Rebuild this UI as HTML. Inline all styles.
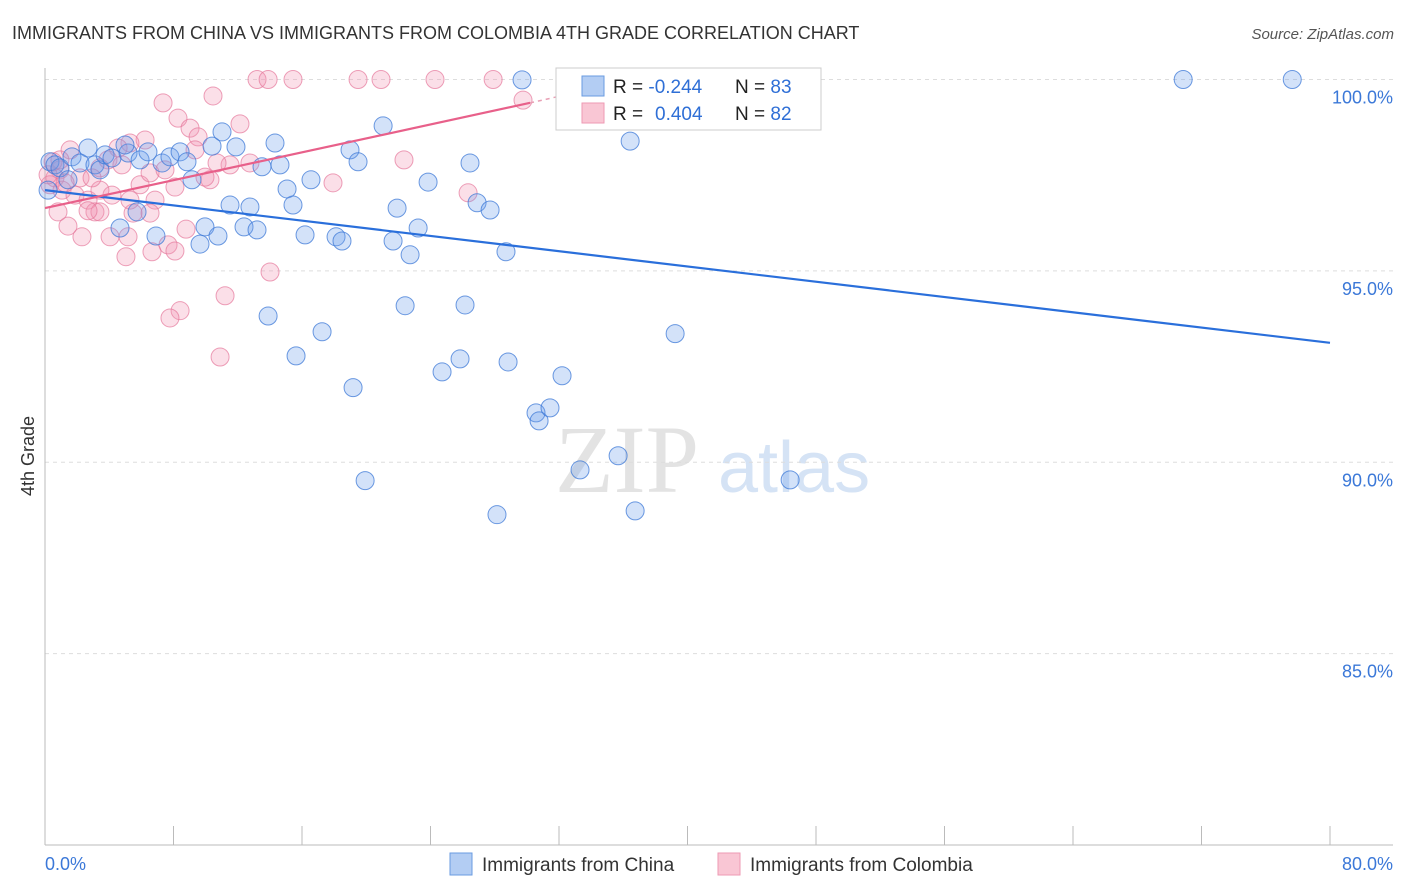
<!DOCTYPE html>
<html><head><meta charset="utf-8"><style>
body{margin:0;background:#fff;font-family:"Liberation Sans",sans-serif;}
</style></head><body>
<svg width="1406" height="892" xmlns="http://www.w3.org/2000/svg" style="display:block">
<text x="12" y="39" font-size="18" fill="#333">IMMIGRANTS FROM CHINA VS IMMIGRANTS FROM COLOMBIA 4TH GRADE CORRELATION CHART</text>
<text x="1394" y="39" font-size="15" fill="#555" font-style="italic" text-anchor="end">Source: ZipAtlas.com</text>
<text transform="translate(34,456) rotate(-90)" font-size="18" fill="#333" text-anchor="middle">4th Grade</text>
<g>
<text x="555" y="492" font-size="96" font-family="Liberation Serif,serif" fill="#e3e3e3">ZIP</text>
<text x="718" y="492" font-size="72" fill="#d5e3f5">atlas</text>
</g>
<g id="grid"></g>
<g id="axes"></g>
<g id="marks"></g>
<g id="trends"></g>
<g>
<rect x="556" y="68" width="265" height="62" fill="#fff" stroke="#ccc"/>
<rect x="582" y="76" width="22" height="20" fill="#b3cdf3" stroke="#6a9be0"/>
<rect x="582" y="103" width="22" height="20" fill="#f9c6d4" stroke="#ee9ab3"/>
<text x="613" y="93" font-size="19" fill="#222">R = <tspan fill="#2f6fd6">-0.244</tspan></text>
<text x="735" y="93" font-size="19" fill="#222">N = <tspan fill="#2f6fd6">83</tspan></text>
<text x="613" y="120" font-size="19" fill="#222">R = <tspan fill="#2f6fd6" x="655">0.404</tspan></text>
<text x="735" y="120" font-size="19" fill="#222">N = <tspan fill="#2f6fd6">82</tspan></text>
</g>
<g>
<rect x="450" y="853" width="22" height="22" fill="#b3cdf3" stroke="#6a9be0"/>
<text x="482" y="871" font-size="19" fill="#333">Immigrants from China</text>
<rect x="718" y="853" width="22" height="22" fill="#f9c6d4" stroke="#ee9ab3"/>
<text x="750" y="871" font-size="19" fill="#333">Immigrants from Colombia</text>
</g>
</svg>
<script>
const chinaX=[0.31,0.62,0.93,1.68,2.68,2.18,3.11,3.42,3.74,4.17,5.17,4.98,5.92,6.41,7.29,7.78,8.41,8.84,9.15,9.96,9.65,10.40,10.77,11.02,11.52,11.89,12.39,12.76,13.20,13.51,13.89,14.32,14.63,15.07,15.44,15.63,16.19,16.56,17.25,18.12,18.49,18.99,19.18,19.49,19.93,21.05,21.67,21.92,22.42,22.73,23.23,23.85,24.72,25.84,26.15,26.46,26.90,27.71,28.14,28.70,28.83,29.70,30.57,30.76,31.44,32.19,32.94,33.31,34.56,35.68,36.43,36.74,39.23,40.97,46.39,70.86,77.65,5.73,4.67,6.91,0.19,1.43];
const chinaY=[97.85,97.77,97.69,97.98,98.21,97.82,97.77,97.64,98.03,97.95,98.08,98.29,97.90,98.11,97.82,97.98,98.11,97.85,97.38,96.15,95.70,98.26,95.91,98.63,96.72,98.24,96.15,96.67,96.07,97.72,93.82,98.34,97.77,97.14,96.72,92.78,95.94,97.38,93.41,95.89,95.78,98.16,91.95,97.85,89.52,98.79,95.78,96.64,94.09,95.42,96.12,97.32,92.36,92.70,94.11,97.82,96.78,96.59,88.63,95.50,92.62,99.99,91.29,91.08,91.42,92.26,100,89.80,99.73,90.17,98.39,88.73,93.36,100,89.54,100,100,96.54,96.12,95.91,97.11,97.38];
const colX=[7.35,10.46,8.28,9.03,13.20,13.89,15.44,19.49,20.92,24.28,27.90,29.76,12.14,9.53,6.23,5.29,4.55,3.92,3.42,1.56,0.93,0.62,0.31,1.06,1.87,2.68,3.11,2.30,1.43,0.81,4.05,5.17,5.04,6.66,7.66,8.09,8.78,11.52,10.71,10.27,9.96,12.76,14.01,11.21,8.41,7.78,10.90,17.93,22.35,26.34,5.92,5.48,6.54,7.47,4.79,4.17,3.42,2.18,2.93,1.25,6.85,8.09,9.34,0.19,0.50,0.93,3.42,2.68,5.29,6.54];
const colY=[99.39,99.57,98.99,98.73,100,100,100,100,100,100,100,99.46,98.84,98.50,98.42,98.34,98.21,97.90,97.69,98.16,97.64,97.43,97.25,97.11,96.98,96.85,96.54,95.89,96.17,96.54,95.89,95.89,95.37,95.50,95.68,95.52,96.09,97.77,97.82,97.38,97.45,97.82,94.97,94.35,93.96,93.77,92.75,97.30,97.90,97.04,97.25,96.51,97.56,97.64,97.77,96.98,97.11,97.43,97.43,97.30,96.85,97.19,98.16,97.51,97.85,97.90,96.54,96.57,96.85,96.51];
const chinaTrend=[0,97.11,80,93.12];
const colTrend=[0,96.64,30.2,99.39,32.0,99.56];
const yTicks=[100,95,90,85];
const yTickLabels=["100.0%","95.0%","90.0%","85.0%"];
const xTicks=[0,8,16,24,32,40,48,56,64,72,80];

const X0=45,X1=1330,Y0=845,Y1=79.5;
const sx=v=>X0+(v/80)*(X1-X0);
const sy=v=>Y0-(v-80)/20*(Y0-Y1);
const NS="http://www.w3.org/2000/svg";
function mk(tag,attrs,parent){const e=document.createElementNS(NS,tag);for(const k in attrs)e.setAttribute(k,attrs[k]);parent.appendChild(e);return e;}
const grid=document.getElementById('grid'),axes=document.getElementById('axes'),marks=document.getElementById('marks'),trends=document.getElementById('trends');
yTicks.forEach((t,i)=>{
 const l=mk('line',{x1:X0,x2:1393,y1:sy(t),y2:sy(t),stroke:'#ddd','stroke-dasharray':'4,4'},grid);
 
 
 const tx=mk('text',{x:1393,y:sy(t)+24,'font-size':18,fill:'#3b78d8','text-anchor':'end'},grid);
 tx.textContent=yTickLabels[i];
 
 
});
const ya=mk('line',{x1:X0,x2:X0,y1:68,y2:Y0,stroke:'#bbb'},axes);


const xa=mk('line',{x1:X0,x2:1393,y1:Y0,y2:Y0,stroke:'#bbb'},axes);


xTicks.forEach(t=>{
 const l=mk('line',{x1:sx(t),x2:sx(t),y1:826,y2:Y0,stroke:'#bbb'},axes);
 
 
});
const xl0=mk('text',{x:X0,y:870,'font-size':18,fill:'#3b78d8'},axes);xl0.textContent='0.0%';


const xl1=mk('text',{x:1393,y:870,'font-size':18,fill:'#3b78d8','text-anchor':'end'},axes);xl1.textContent='80.0%';


colX.forEach((x,i)=>{
 const c=mk('circle',{cx:sx(x),cy:sy(colY[i]),r:9,fill:'rgba(242,150,178,0.3)',stroke:'rgba(230,120,155,0.7)'},marks);
 
 
});
chinaX.forEach((x,i)=>{
 const c=mk('circle',{cx:sx(x),cy:sy(chinaY[i]),r:9,fill:'rgba(110,160,235,0.3)',stroke:'rgba(60,120,215,0.75)'},marks);
 
 
});
const bt=mk('line',{x1:sx(chinaTrend[0]),y1:sy(chinaTrend[1]),x2:sx(chinaTrend[2]),y2:sy(chinaTrend[3]),stroke:'#2a6fdb','stroke-width':2.2},trends);


const pt=mk('line',{x1:sx(colTrend[0]),y1:sy(colTrend[1]),x2:sx(colTrend[2]),y2:sy(colTrend[3]),stroke:'#e8608a','stroke-width':2.2},trends);


const pd=mk('line',{x1:sx(colTrend[2]),y1:sy(colTrend[3]),x2:sx(colTrend[4]),y2:sy(colTrend[5]),stroke:'#e8a0b5','stroke-width':1.5,'stroke-dasharray':'4,4'},trends);


</script>
</body></html>
